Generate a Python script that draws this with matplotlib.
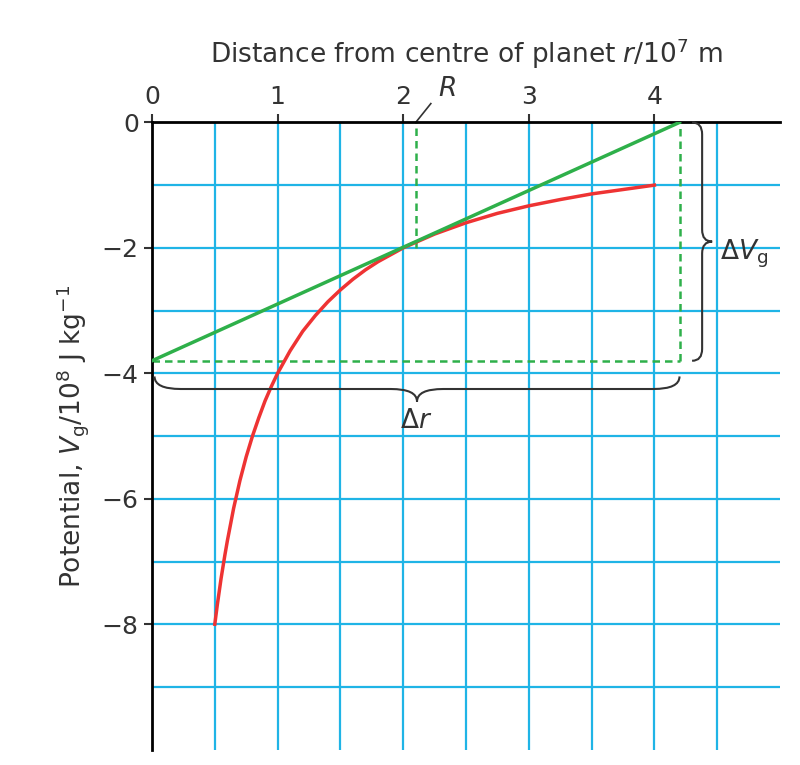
import matplotlib
matplotlib.use("Agg")
import matplotlib.pyplot as plt
from matplotlib.path import Path
from matplotlib.patches import PathPatch
import numpy as np

r_vals = [0.5, 0.52, 0.55, 0.58, 0.6, 0.65, 0.7, 0.75, 0.8, 0.85, 0.9, 0.95, 1.0, 1.1, 1.2, 1.3, 1.4, 1.5,
          1.6, 1.7, 1.8, 1.9, 2.0, 2.25, 2.5, 2.75, 3.0, 3.25, 3.5, 3.75, 4.0]
V_vals = [-8.0, -7.69, -7.27, -6.9, -6.67, -6.15, -5.71, -5.33, -5.0, -4.71, -4.44, -4.21, -4.0, -3.64,
          -3.33, -3.08, -2.86, -2.67, -2.5, -2.35, -2.22, -2.11, -2.0, -1.78, -1.6, -1.45, -1.33, -1.23,
          -1.14, -1.07, -1.0]
tangent_r = [0.0, 4.2]
tangent_V = [-3.8, 0.0]
R_pos = 2.1

fig = plt.figure(figsize=(8, 7.65), dpi=100)
ax = fig.add_axes([0.19, 0.02, 0.785, 0.82])
ax.set_xlim(0, 5)
ax.set_ylim(-10, 0)
for x in [0.5*i for i in range(1, 10)]:
    ax.axvline(x, color='#1fb4e6', lw=1.6, zorder=1)
for y in range(-9, 0):
    ax.axhline(y, color='#1fb4e6', lw=1.6, zorder=1)
for s in ['right', 'bottom']:
    ax.spines[s].set_visible(False)
for s in ['left', 'top']:
    ax.spines[s].set_linewidth(2)
ax.xaxis.tick_top()
ax.xaxis.set_label_position('top')
ax.set_xticks([0, 1, 2, 3, 4])
ax.set_yticks([0, -2, -4, -6, -8])
ax.set_yticklabels(['0', '\u22122', '\u22124', '\u22126', '\u22128'])
ax.tick_params(labelsize=18, colors='#333333', direction='out', length=6, width=1.5)
ax.set_xlabel('Distance from centre of planet $r$/10$^7$ m', fontsize=19, color='#333333', labelpad=16)
ax.set_ylabel('Potential, $V_\\mathrm{g}$/10$^8$ J kg$^{-1}$', fontsize=19, color='#333333', labelpad=8)

ax.plot(r_vals, V_vals, color='#ee3333', lw=2.5, zorder=3)
ax.plot(tangent_r, tangent_V, color='#2eb04a', lw=2.5, zorder=3)
g = '#2eb04a'
ax.plot([0, tangent_r[1]], [tangent_V[0]]*2, color=g, lw=1.8, ls=(0, (3, 2)), zorder=2)
ax.plot([tangent_r[1]]*2, [tangent_V[0], 0], color=g, lw=1.8, ls=(0, (3, 2)), zorder=2)
ax.plot([R_pos]*2, [-2.0, 0], color=g, lw=1.8, ls=(0, (3, 2)), zorder=2)

ax.plot([R_pos, 2.22], [0, 0.3], color='#333333', lw=1.2, clip_on=False)
ax.text(2.28, 0.32, '$R$', fontsize=19, color='#333333', va='bottom')

def brace(ax, x0, y0, x1, y1, w):
    p0 = np.array([x0, y0]); p1 = np.array([x1, y1])
    d = p1 - p0; m = (p0 + p1)/2
    n = np.array(w)
    verts = [p0, p0 + n*0.5, p0 + d*0.05 + n*0.5, m - d*0.05 + n*0.5,
             m + n*0.5, m + n, m + n*0.5, m + d*0.05 + n*0.5,
             p1 - d*0.05 + n*0.5, p1 + n*0.5, p1]
    codes = [Path.MOVETO, Path.CURVE3, Path.CURVE3, Path.LINETO,
             Path.CURVE3, Path.CURVE3, Path.CURVE3, Path.CURVE3,
             Path.LINETO, Path.CURVE3, Path.CURVE3]
    ax.add_patch(PathPatch(Path(verts, codes), fill=False, lw=1.5, ec='#333333', clip_on=False, zorder=4))

brace(ax, 4.3, 0, 4.3, tangent_V[0], (0.16, 0))
ax.text(4.52, -2.1, '$\\Delta V_\\mathrm{g}$', fontsize=19, color='#333333', va='center')
brace(ax, 0.02, -4.05, 4.2, -4.05, (0, -0.4))
ax.text(2.1, -4.55, '$\\Delta r$', fontsize=19, color='#333333', ha='center', va='top')

fig.savefig('out.png', dpi=100)
